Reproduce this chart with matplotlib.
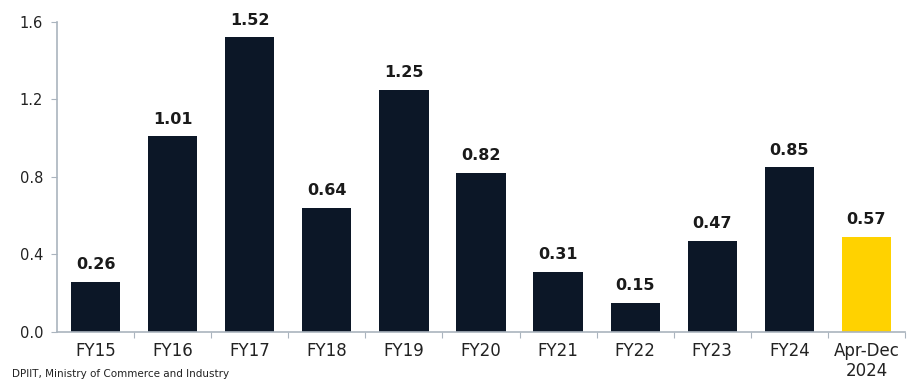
import matplotlib.pyplot as plt

categories = ["FY15", "FY16", "FY17", "FY18", "FY19", "FY20",
              "FY21", "FY22", "FY23", "FY24", "Apr-Dec\n2024"]
values = [0.26, 1.01, 1.52, 0.64, 1.25, 0.82, 0.31, 0.15, 0.47, 0.85, 0.49]
value_labels = ["0.26", "1.01", "1.52", "0.64", "1.25", "0.82",
                "0.31", "0.15", "0.47", "0.85", "0.57"]
yticks = [0.0, 0.4, 0.8, 1.2, 1.6]
source = "DPIIT, Ministry of Commerce and Industry"

navy = "#0c1727"
yellow = "#ffd200"
axis_color = "#aab4be"

fig = plt.figure(figsize=(9.09, 3.91), dpi=100)
ax = fig.add_axes([0.0627, 0.151, 0.9329, 0.793])

colors = [navy] * (len(values) - 1) + [yellow]
x = range(len(categories))
bars = ax.bar(x, values, width=0.64, color=colors)

for bar, lab in zip(bars, value_labels):
    ax.text(bar.get_x() + bar.get_width() / 2, bar.get_height() + 0.05, lab,
            ha="center", va="bottom", fontsize=11.5, fontweight="bold",
            color="#1a1a1a")

ax.set_xlim(-0.5, len(categories) - 0.5)
ax.set_ylim(0, 1.6)
ax.set_yticks(yticks)
ax.set_yticklabels([f"{t:.1f}" for t in yticks], fontsize=10.5, color="#222222")

# category labels centred, tick marks on category boundaries
ax.set_xticks([i + 0.5 for i in range(len(categories))])
ax.set_xticklabels([])
ax.set_xticks(list(x), minor=True)
ax.set_xticklabels(categories, minor=True, fontsize=12, color="#222222",
                   linespacing=1.2)
ax.tick_params(axis="x", which="minor", length=0, pad=7)
ax.tick_params(axis="x", which="major", length=4, color=axis_color)
ax.tick_params(axis="y", length=4, color=axis_color, pad=6)

for side in ["top", "right"]:
    ax.spines[side].set_visible(False)
for side in ["left", "bottom"]:
    ax.spines[side].set_color(axis_color)
    ax.spines[side].set_linewidth(1.2)

fig.text(0.013, 0.043, source, fontsize=7.5, color="#222222", ha="left", va="center")

fig.savefig("out.png", dpi=100)
